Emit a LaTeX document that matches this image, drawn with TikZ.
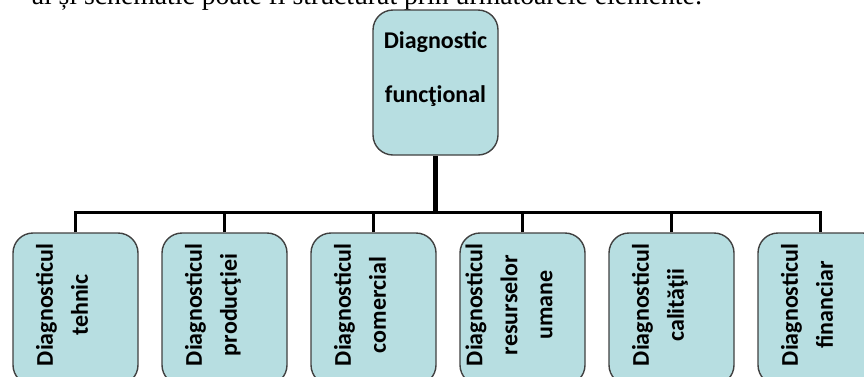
\documentclass[tikz,border=0pt]{standalone}
\usepackage{fontspec}
\usepackage{graphicx}
\setmainfont{Liberation Serif}
\newfontfamily\boxfont{Carlito}
\usetikzlibrary{positioning}
\definecolor{boxfill}{RGB}{183,222,225}
\definecolor{boxline}{RGB}{64,64,64}
\newcommand{\vlabel}[1]{\rotatebox{90}{\begin{tabular}{@{\hspace{8pt}}c@{}}#1\end{tabular}}\hspace*{22pt}}

\begin{document}
\begin{tikzpicture}[x=1pt,y=-1pt,
  box/.style={draw=boxline,line width=1.4pt,fill=boxfill,rounded corners=20pt,
    minimum width=125pt,minimum height=145pt,inner sep=0pt,
    font=\boxfont\bfseries\fontsize{24}{29}\selectfont},
  subbox/.style={box,minimum height=152pt},
  conn/.style={line width=3.5pt,line join=miter},
  stem/.style={line width=5pt},node distance=22.6pt]
  \useasboundingbox (0,0) rectangle (864,376);
  \clip (0,0) rectangle (864,376);
  \node[anchor=base east,font=\fontsize{27.7}{33}\selectfont](intro) at (706,4)
    {al și schematic poate fi structurat prin următoarele elemente:};
  \node[box](fd) at (435.5,82.5){\begin{tabular}{@{}c@{}}Diagnostic\\[25pt]funcţional\\[25pt]\end{tabular}};
  \node[subbox](d1) at (75.5,309){\vlabel{Diagnosticul\\[6pt]tehnic}};
  \node[subbox,right=of d1](d2){\vlabel{Diagnosticul\\[6pt]producţiei}};
  \node[subbox,right=of d2](d3){\vlabel{Diagnosticul\\[6pt]comercial}};
  \node[subbox,right=of d3](d4){\vlabel{Diagnosticul\\[6pt]resurselor\\[6pt]umane}};
  \node[subbox,right=of d4](d5){\vlabel{Diagnosticul\\[6pt]calităţii}};
  \node[subbox,right=of d5](d6){\vlabel{Diagnosticul\\[6pt]financiar}};
  \path (fd.south) ++(0,57) coordinate (split);
  \draw[stem](fd.south)--(split);
  \draw[conn](d1.north)|-(split)-|(d6.north);
  \foreach \i in {2,...,5} \draw[conn](d\i.north)--(d\i.north|-split);
\end{tikzpicture}
\end{document}
